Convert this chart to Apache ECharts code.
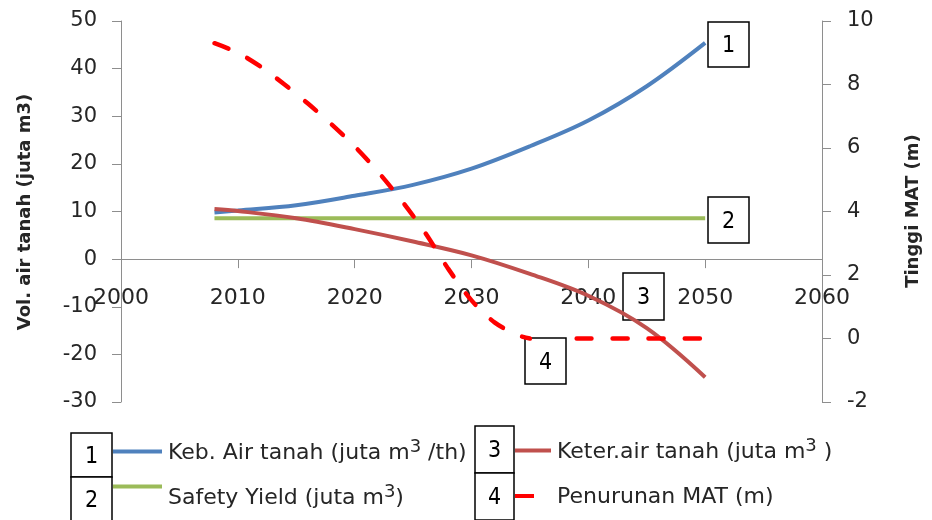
<!DOCTYPE html>
<html>
<head>
<meta charset="utf-8">
<script src="https://cdn.jsdelivr.net/npm/echarts@6/dist/echarts.min.js"></script>
<style>
  html, body { margin: 0; padding: 0; background: #fff; }
  #chart { width: 932px; height: 520px; }
</style>
</head>
<body>
<div id="chart"></div>
<script>
// Groundwater demand, availability and water-table decline, 2008-2050
const years = [2008, 2010, 2015, 2020, 2025, 2030, 2035, 2040, 2045, 2050];
const kebutuhanAir = [9.8, 10.2, 11.3, 13.3, 15.6, 19.0, 23.7, 29.1, 36.3, 45.4];   // juta m3/th
const ketersediaanAir = [10.5, 10.1, 8.6, 6.3, 3.7, 0.8, -3.1, -7.7, -14.5, -24.8]; // juta m3
const safetyYears = [2008, 2050];
const safetyYield = [8.6, 8.6];                                                     // juta m3
const matYears = [2008, 2010, 2012, 2014, 2016, 2018, 2020, 2022, 2024, 2026, 2028, 2030, 2032, 2034, 2035, 2036, 2039, 2045, 2050];
const penurunanMat = [9.3, 9.0, 8.55, 8.0, 7.4, 6.75, 6.05, 5.25, 4.35, 3.35, 2.2, 1.2, 0.5, 0.1, 0.0, null, 0.0, 0.0, 0.0]; // m

const leftTicks = { min: -30, max: 50, interval: 10 };
const rightTicks = { min: -2, max: 10, interval: 2 };
const yearTicks = { min: 2000, max: 2060, interval: 10 };

const FONT = 'DejaVu Sans';
const BOX_FONT = '"Liberation Sans Narrow", "DejaVu Sans Condensed", "Liberation Sans", sans-serif';
const AXIS_GRAY = '#8e8e8e';
const TEXT = '#262626';

const GRID_TOP = 21;
const GRID_HEIGHT = 381;
// the year axis sits on the zero line of the left axis
const zeroShift = GRID_HEIGHT * (0 - leftTicks.min) / (leftTicks.max - leftTicks.min);

const pairs = (xs, ys) => xs.map((x, i) => [x, ys[i]]);

const chart = echarts.init(document.getElementById('chart'), null, { renderer: 'canvas' });

// numbered box used both on the plot and in the key
function numberBox(x, y, w, h, label) {
  return {
    type: 'group', x: x, y: y, z: 100,
    children: [
      { type: 'rect', shape: { x: 0, y: 0, width: w, height: h },
        style: { fill: '#fff', stroke: '#000', lineWidth: 1.5 } },
      { type: 'text', x: w / 2, y: h / 2 + 2,
        style: { text: label, fill: '#000', font: '23px ' + BOX_FONT, align: 'center', verticalAlign: 'middle' } }
    ]
  };
}

function keyLine(x1, x2, y, color) {
  return { type: 'line', z: 100, shape: { x1: x1, y1: y, x2: x2, y2: y },
    style: { stroke: color, lineWidth: 4 } };
}

// key text with a raised "3" for m3
function keyText(x, y, before, after) {
  return {
    type: 'text', x: x, y: y, z: 100,
    style: {
      text: '{n|' + before + '}{s|3}{n|' + after + '}',
      align: 'left', verticalAlign: 'middle',
      rich: {
        n: { fontFamily: FONT, fontSize: 22, fill: TEXT, color: TEXT, verticalAlign: 'bottom' },
        s: { fontFamily: FONT, fontSize: 18, fill: TEXT, color: TEXT, verticalAlign: 'bottom', padding: [0, 0, 8, 0] }
      }
    }
  };
}

function plainText(x, y, text) {
  return { type: 'text', x: x, y: y, z: 100,
    style: { text: text, fill: TEXT, font: '22px ' + FONT, align: 'left', verticalAlign: 'middle' } };
}

const option = {
  backgroundColor: '#fff',
  animation: false,
  grid: { left: 121, right: 110, top: GRID_TOP, height: GRID_HEIGHT, containLabel: false },
  xAxis: {
    type: 'value', min: yearTicks.min, max: yearTicks.max, interval: yearTicks.interval,
    position: 'bottom', offset: -zeroShift,
    axisLine: { show: true, onZero: false, lineStyle: { color: AXIS_GRAY, width: 1 } },
    axisTick: { show: true, inside: false, length: 9, lineStyle: { color: AXIS_GRAY } },
    axisLabel: { color: TEXT, fontFamily: FONT, fontSize: 22, margin: 28, formatter: v => String(v) },
    splitLine: { show: false }
  },
  yAxis: [
    {
      type: 'value', position: 'left', min: leftTicks.min, max: leftTicks.max, interval: leftTicks.interval,
      axisLine: { show: true, onZero: false, lineStyle: { color: AXIS_GRAY, width: 1 } },
      axisTick: { show: true, inside: false, length: 9, lineStyle: { color: AXIS_GRAY } },
      axisLabel: { color: TEXT, fontFamily: FONT, fontSize: 21, margin: 24 },
      splitLine: { show: false }
    },
    {
      type: 'value', position: 'right', min: rightTicks.min, max: rightTicks.max, interval: rightTicks.interval,
      axisLine: { show: true, onZero: false, lineStyle: { color: AXIS_GRAY, width: 1 } },
      axisTick: { show: true, inside: false, length: 9, lineStyle: { color: AXIS_GRAY } },
      axisLabel: { color: TEXT, fontFamily: FONT, fontSize: 21, margin: 25 },
      splitLine: { show: false }
    }
  ],
  series: [
    {
      name: 'Keb. Air tanah', type: 'line', yAxisIndex: 0, data: pairs(years, kebutuhanAir),
      smooth: 0.35, showSymbol: false, lineStyle: { color: '#4F81BD', width: 4 }, z: 2
    },
    {
      name: 'Safety Yield', type: 'line', yAxisIndex: 0, data: pairs(safetyYears, safetyYield),
      showSymbol: false, lineStyle: { color: '#9BBB59', width: 4 }, z: 2
    },
    {
      name: 'Keter.air tanah', type: 'line', yAxisIndex: 0, data: pairs(years, ketersediaanAir),
      smooth: 0.35, showSymbol: false, lineStyle: { color: '#C0504D', width: 4 }, z: 3
    },
    {
      name: 'Penurunan MAT', type: 'line', yAxisIndex: 1, data: pairs(matYears, penurunanMat),
      smooth: 0.3, connectNulls: false, showSymbol: false,
      lineStyle: { color: '#FF0000', width: 4.5, type: [15, 21], cap: 'round' }, z: 4
    }
  ],
  graphic: [
    // axis titles
    { type: 'text', x: 25, y: 212, rotation: Math.PI / 2, z: 100,
      style: { text: 'Vol. air tanah (juta m3)', fill: TEXT, font: 'bold 18px ' + FONT, align: 'center', verticalAlign: 'middle' } },
    { type: 'text', x: 913, y: 211, rotation: Math.PI / 2, z: 100,
      style: { text: 'Tinggi MAT (m)', fill: TEXT, font: 'bold 18px ' + FONT, align: 'center', verticalAlign: 'middle' } },

    // labels at the line ends
    numberBox(708, 22, 41, 45, '1'),
    numberBox(708, 197, 41, 46, '2'),
    numberBox(623, 273, 41, 47, '3'),
    numberBox(525, 338, 41, 46, '4'),

    // key
    numberBox(71, 433, 41, 44, '1'),
    numberBox(71, 477, 41, 44, '2'),
    numberBox(475, 426, 39, 47, '3'),
    numberBox(475, 473, 39, 47, '4'),
    keyLine(113, 162, 451.5, '#4F81BD'),
    keyLine(113, 162, 486.5, '#9BBB59'),
    keyLine(515, 551, 450.5, '#C0504D'),
    keyLine(515, 534, 496, '#FF0000'),
    keyText(168, 451, 'Keb. Air tanah (juta m', ' /th)'),
    keyText(168, 496, 'Safety Yield (juta m', ')'),
    keyText(557, 450, 'Keter.air tanah (juta m', ' )'),
    plainText(557, 497, 'Penurunan MAT (m)')
  ]
};

chart.setOption(option);
</script>
</body>
</html>
